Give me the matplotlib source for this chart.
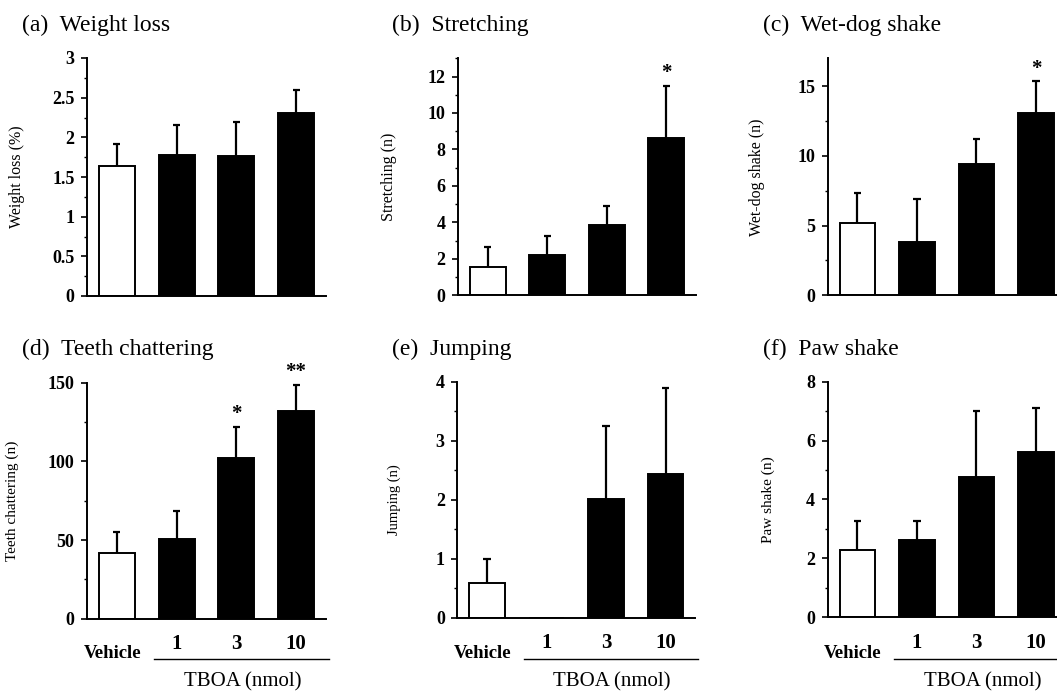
import matplotlib
matplotlib.use("Agg")
import matplotlib.pyplot as plt
import numpy as np
from matplotlib.transforms import blended_transform_factory
from matplotlib.ticker import MultipleLocator
from matplotlib.lines import Line2D

plt.rcParams['font.family'] = ['Liberation Serif', 'DejaVu Serif']

groups = ["Vehicle", "1", "3", "10"]
dose_labels = ["1", "3", "10"]
xlabel_text = "TBOA (nmol)"

titles = ["(a)  Weight loss", "(b)  Stretching", "(c)  Wet-dog shake",
          "(d)  Teeth chattering", "(e)  Jumping", "(f)  Paw shake"]
ylabels = ["Weight loss (%)", "Stretching (n)", "Wet-dog shake (n)",
           "Teeth chattering (n)", "Jumping (n)", "Paw shake (n)"]

weight_loss = [1.64, 1.78, 1.77, 2.31]
weight_loss_sem = [0.27, 0.38, 0.42, 0.29]
stretching = [1.57, 2.21, 3.86, 8.62]
stretching_sem = [1.10, 1.06, 1.06, 2.88]
wet_dog = [5.16, 3.84, 9.43, 13.05]
wet_dog_sem = [2.20, 3.04, 1.77, 2.29]
teeth = [42.0, 50.7, 102.4, 132.2]
teeth_sem = [12.9, 17.8, 19.5, 16.4]
jumping = [0.58, 0.0, 2.01, 2.44]
jumping_sem = [0.42, 0.0, 1.24, 1.46]
paw = [2.30, 2.61, 4.76, 5.60]
paw_sem = [0.97, 0.66, 2.24, 1.52]

signif = [["", "", "", ""], ["", "", "", "*"], ["", "", "", "*"],
          ["", "", "*", "**"], ["", "", "", ""], ["", "", "", ""]]

series = [weight_loss, stretching, wet_dog, teeth, jumping, paw]
sems = [weight_loss_sem, stretching_sem, wet_dog_sem, teeth_sem, jumping_sem, paw_sem]
ymax = [3, 13, 17, 150, 4, 8]
major = [0.5, 2, 5, 50, 1, 2]
minor = [0.25, 1, 2.5, 25, 0.5, 1]

W, H = 1057, 691
fig = plt.figure(figsize=(W / 100, H / 100), dpi=100)

# axes boxes in pixels: left, top(ymax), bottom(y=0), width
boxes = [(87, 58, 296, 239), (458, 58.3, 295.3, 238), (827.7, 58.3, 295.3, 238),
         (87, 382.7, 618.7, 239), (457.3, 381.7, 617.7, 238), (827.7, 381.7, 617.3, 238)]
ylab_dist = [62, 61, 63, 68, 56, 53]
tick_size = [13, 13, 13, 13, 13, 13]
ylab_size = [11.5, 11.5, 11.5, 11, 10.5, 11]
title_pos = [(22, 25), (391.7, 25), (763, 25), (22, 349), (391.7, 349), (763, 349)]

x = np.arange(4)
for i in range(6):
    l, t, b, w = boxes[i]
    ax = fig.add_axes([l / W, 1 - b / H, w / W, (b - t) / H])
    vals = np.array(series[i])
    errs = np.array(sems[i])
    colors = ['white', 'black', 'black', 'black']
    # error bars (upper only)
    for xi, v, e in zip(x, vals, errs):
        if e > 0:
            ax.vlines(xi, v, v + e, color='black', lw=1.6, zorder=1)
            ax.hlines(v + e, xi - 0.06, xi + 0.06, color='black', lw=1.6, zorder=1)
    ax.bar(x, vals, width=0.6, color=colors, edgecolor='black', linewidth=1.4, zorder=2)
    for xi, v, e, s in zip(x, vals, errs, signif[i]):
        if s:
            ax.annotate(s, (xi, v + e), xytext=(0, 2), textcoords='offset points',
                        ha='center', va='bottom', fontsize=15, fontweight='bold')
    ax.set_xlim(-0.5, 3.5)
    ax.set_ylim(0, ymax[i])
    ax.spines['top'].set_visible(False)
    ax.spines['right'].set_visible(False)
    ax.spines['left'].set_linewidth(1.4)
    ax.spines['bottom'].set_linewidth(1.4)
    ax.yaxis.set_major_locator(MultipleLocator(major[i]))
    ax.yaxis.set_minor_locator(MultipleLocator(minor[i]))
    ax.tick_params(axis='y', which='major', direction='out', length=4, width=1.2,
                   labelsize=tick_size[i], pad=5)
    ax.tick_params(axis='y', which='minor', direction='out', length=2, width=1.0)
    if i == 0:
        ax.set_yticks([0, 0.5, 1, 1.5, 2, 2.5, 3])
        ax.set_yticklabels(['0', '0.5', '1', '1.5', '2', '2.5', '3'])
    for lab in ax.get_yticklabels():
        lab.set_fontweight('bold')
    ax.set_ylabel(ylabels[i], fontsize=ylab_size[i])
    ax.yaxis.set_label_coords(-ylab_dist[i] / w, 0.5)
    if i < 3:
        ax.set_xticks([])
    else:
        ax.set_xticks(x[1:])
        ax.set_xticklabels(dose_labels, fontsize=15, fontweight='bold')
        ax.tick_params(axis='x', length=0, pad=11)
        tr = blended_transform_factory(ax.transData, fig.transFigure)
        ax.text(-0.08, 1 - 653 / H, groups[0], transform=tr, ha='center', va='center',
                fontsize=13.5, fontweight='bold')
        ax.add_line(Line2D([0.62, 3.55], [1 - 659 / H, 1 - 659 / H], transform=tr,
                           color='black', lw=1.0, clip_on=False))
        ax.text(2.1, 1 - 681.5 / H, xlabel_text, transform=tr, ha='center', va='center',
                fontsize=15)
    fig.text(title_pos[i][0] / W, 1 - title_pos[i][1] / H, titles[i], ha='left',
             va='center', fontsize=17)

fig.savefig("out.png", dpi=100)
